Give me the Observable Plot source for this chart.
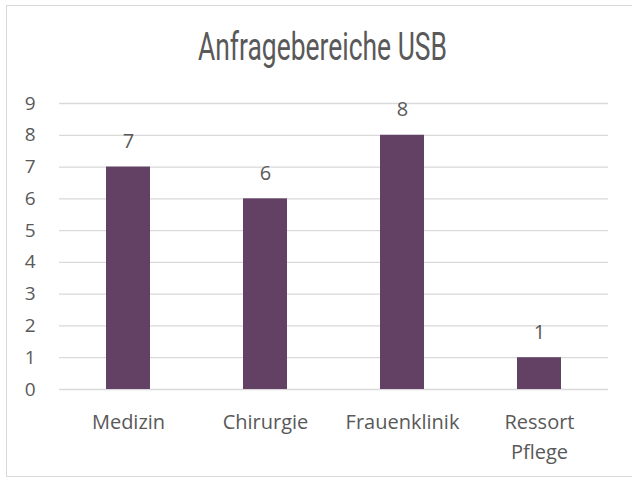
<!DOCTYPE html>
<html>
<head>
<meta charset="utf-8">
<script src="https://cdn.jsdelivr.net/npm/d3@7"></script>
<script src="https://cdn.jsdelivr.net/npm/@observablehq/plot@0.6"></script>
<style>
  html, body { margin: 0; padding: 0; background: #fff; overflow: hidden; }
  #wrap { position: relative; width: 632px; height: 480px; overflow: hidden; background: #fff; }
  #border { position: absolute; left: 6px; top: 5px; width: 650px; height: 472px; border: 1px solid #d9d9d9; box-sizing: border-box; }
  #title { position: absolute; left: 198px; top: 24px; white-space: nowrap; transform-origin: 0 0;
    font-family: "Roboto", sans-serif; font-weight: 400; font-size: 38px; line-height: 46px; color: #595959; }
  #plot { position: absolute; left: 0; top: 0; }
</style>
</head>
<body>
<div id="wrap">
  <div id="border"></div>
  <div id="plot"></div>
  <div id="title">Anfragebereiche USB</div>
</div>
<script>
const categories = ["Medizin", "Chirurgie", "Frauenklinik", "Ressort Pflege"];
const categoryLabels = ["Medizin", "Chirurgie", "Frauenklinik", "Ressort\nPflege"];
const values = [7, 6, 8, 1];
const yTicks = [0, 1, 2, 3, 4, 5, 6, 7, 8, 9];

const data = categories.map((c, i) => ({category: c, value: values[i]}));
const labelOf = new Map(categories.map((c, i) => [c, categoryLabels[i]]));

const textColor = "#595959";
const font = "'Open Sans', sans-serif";

const chart = Plot.plot({
  width: 632,
  height: 480,
  marginTop: 103,
  marginBottom: 91,
  marginLeft: 59,
  marginRight: 24,
  style: {fontFamily: font, fontSize: "18px", color: textColor, background: "transparent", overflow: "visible"},
  x: {domain: categories, paddingInner: 0.68, paddingOuter: 0.34, label: null},
  y: {domain: [0, 9], label: null},
  marks: [
    Plot.gridY(yTicks, {stroke: "#d9d9d9", strokeOpacity: 1, strokeWidth: 1.3}),
    Plot.barY(data, {x: "category", y: "value", fill: "#634165"}),
    Plot.text(data, {x: "category", y: "value", text: d => String(d.value), dy: -19, lineAnchor: "bottom", fill: textColor, fontSize: 20}),
    Plot.axisY({ticks: yTicks, tickSize: 0, tickPadding: 24, fill: textColor, fontSize: 19, label: null}),
    Plot.axisX({tickSize: 0, tickPadding: 18, tickFormat: d => labelOf.get(d), lineHeight: 1.5, fill: textColor, fontSize: 20, label: null})
  ]
});
document.getElementById("plot").appendChild(chart);

// compress the title horizontally to mimic the narrow display face
const title = document.getElementById("title");
const w = title.getBoundingClientRect().width;
title.style.transform = `scaleX(${249 / w})`;
</script>
</body>
</html>
